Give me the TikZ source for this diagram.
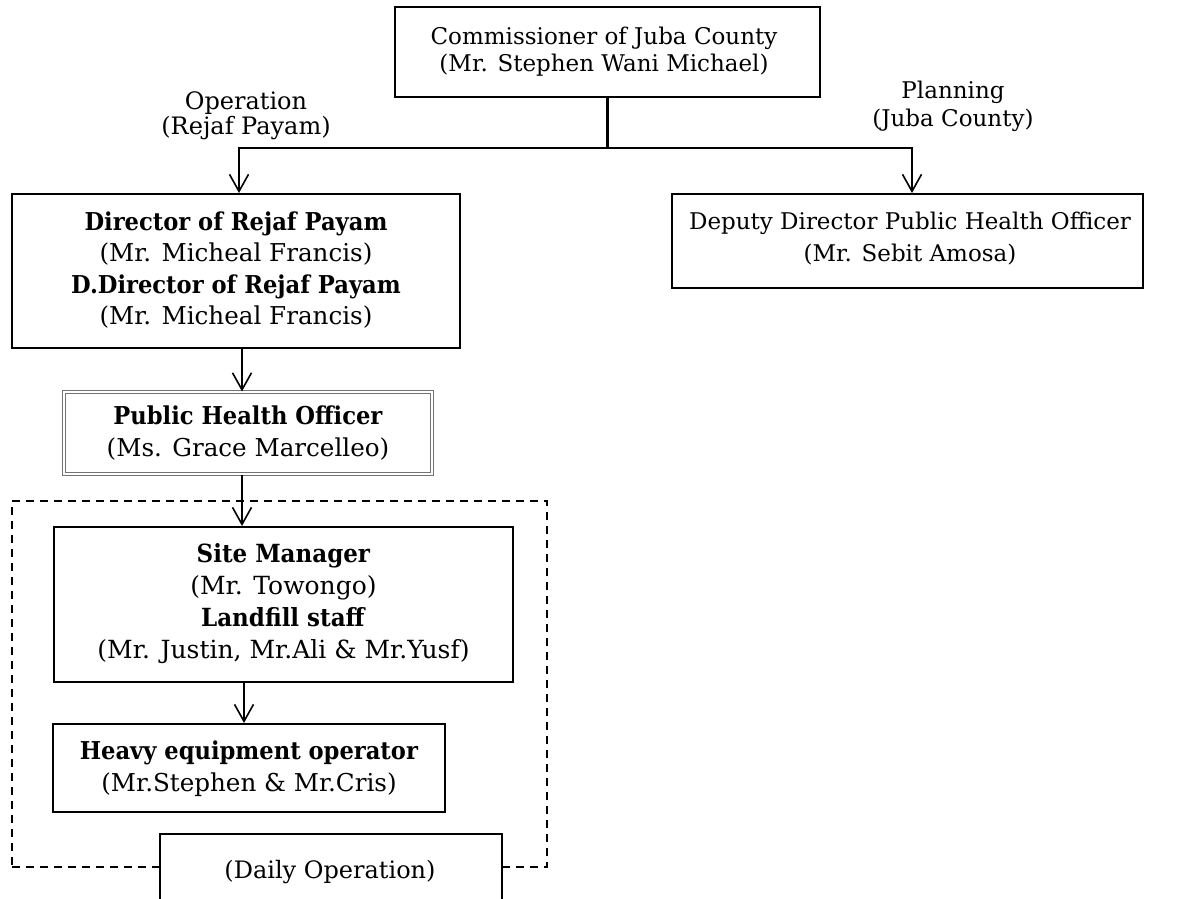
\documentclass[tikz,border=0pt]{standalone}
\usepackage{fontspec}
\setmainfont{DejaVu Serif}[BoldFeatures={FakeStretch=0.92}]
\usetikzlibrary{arrows.meta}
\begin{document}
\begin{tikzpicture}[x=0.5pt,y=-0.5pt,
  box/.style={draw, line width=1pt, fill=white, inner sep=0pt},
  dbox/.style={draw=black!55, double=white, double distance=0.6pt, line width=0.55pt, fill=white, inner sep=0pt},
  txt/.style={align=center, font=\fontsize{12.3}{15.8}\selectfont, inner sep=0pt},
  toptxt/.style={align=center, font=\fontsize{11.5}{13.5}\selectfont, inner sep=0pt},
  arr/.style={line width=0.8pt, -{Straight Barb[length=8.5pt,width=9.5pt,line width=0.8pt]}},
  trunk/.style={line width=1.4pt},
  frame/.style={draw, line width=0.9pt, dash pattern=on 4pt off 3pt, inner sep=0pt}]
\useasboundingbox (0,0) rectangle (1184,899);
\clip (0,0) rectangle (1184,899);

% top of the chart
\node[box, minimum width=212.5pt, minimum height=45pt] (comm) at (607.5,52) {};
\node[toptxt] (commtxt) at (604,51.5) {Commissioner of Juba County\\(Mr. Stephen Wani Michael)};

% branch labels
\node[toptxt, font=\fontsize{12}{12.5}\selectfont] (oplbl) at (246,115.5) {Operation\\(Rejaf Payam)};
\node[toptxt, font=\fontsize{11.5}{14}\selectfont] (planlbl) at (953,106) {Planning\\(Juba County)};

% second level
\node[box, minimum width=224pt, minimum height=77pt] (dir) at (236,271) {};
\node[txt] (dirtxt) at (236,270) {\textbf{Director of Rejaf Payam}\\(Mr. Micheal Francis)\\\textbf{D.Director of Rejaf Payam}\\(Mr. Micheal Francis)};

\node[box, minimum width=235.5pt, minimum height=47pt] (dep) at (907.5,241) {};
\node[toptxt, font=\fontsize{11.5}{16}\selectfont] (deptxt) at (910,239) {Deputy Director Public Health Officer\\(Mr. Sebit Amosa)};

% public health officer
\node[dbox, minimum width=184pt, minimum height=41pt] (pho) at (248,433) {};
\node[txt] (photxt) at (248,433) {\textbf{Public Health Officer}\\(Ms. Grace Marcelleo)};

% daily operation group
\node[frame, minimum width=267.5pt, minimum height=183pt] (grp) at (279.5,684) {};

\node[box, minimum width=229.5pt, minimum height=77.5pt] (site) at (283.5,604.5) {};
\node[txt, font=\fontsize{12.5}{16}\selectfont] (sitetxt) at (283.5,604) {\textbf{Site Manager}\\(Mr. Towongo)\\\textbf{Landfill staff}\\(Mr. Justin, Mr.Ali \& Mr.Yusf)};

\node[box, minimum width=196pt, minimum height=44pt] (heavy) at (249,768) {};
\node[txt] (heavytxt) at (249,769) {\textbf{Heavy equipment operator}\\(Mr.Stephen \& Mr.Cris)};

\node[box, minimum width=171pt, minimum height=53pt] (daily) at (331,887) {};
\node[txt, font=\fontsize{12}{14}\selectfont] (dailytxt) at (330,872) {(Daily Operation)};

% connectors
\coordinate (ltap) at (239,148);
\coordinate (rtap) at (912,148);
\coordinate (spine) at (242,0);
\coordinate (spine2) at (244,0);
\draw[trunk] (comm.south) -- (comm.south |- ltap);
\draw[trunk, line cap=rect] (ltap) -- (rtap);
\draw[arr] (ltap) -- (dir.north -| ltap);
\draw[arr] (rtap) -- (dep.north -| rtap);
\draw[arr] (dir.south -| spine) -- (pho.north -| spine);
\draw[arr] (pho.south -| spine) -- (site.north -| spine);
\draw[arr] (site.south -| spine2) -- (heavy.north -| spine2);
\end{tikzpicture}
\end{document}
